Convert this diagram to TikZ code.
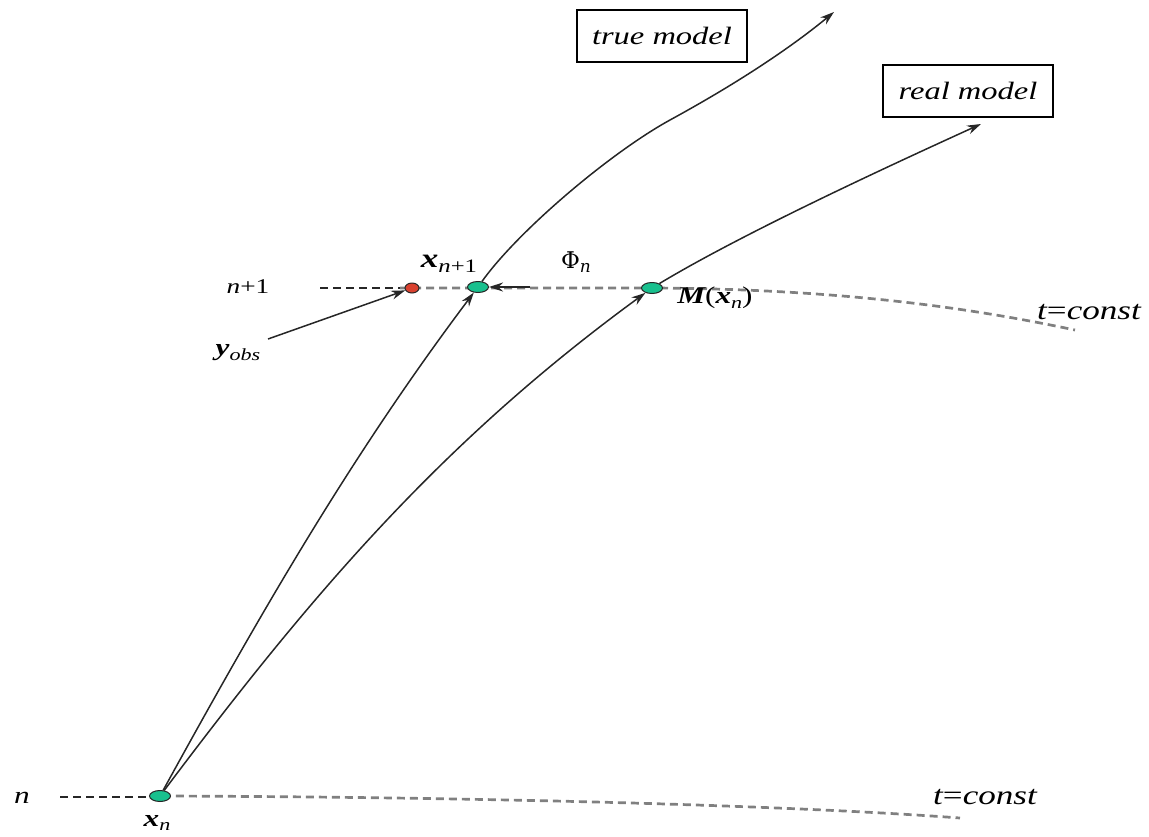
\documentclass[tikz,border=0pt]{standalone}
\usepackage{fontspec}
\setmainfont[FakeStretch=1.3]{Liberation Serif}
\usetikzlibrary{arrows.meta,shapes.geometric}
\definecolor{ptgreen}{HTML}{19C08E}
\definecolor{ptred}{HTML}{D9412F}
\newcommand{\sub}[1]{\raisebox{-0.4ex}{\fontsize{17}{17}\selectfont #1}}
\tikzset{
  pt/.style={ellipse,draw=black!85,line width=1pt,minimum width=21pt,minimum height=11pt,inner sep=0pt},
  gpt/.style={pt,fill=ptgreen},
  rpt/.style={pt,fill=ptred,minimum width=14pt,minimum height=10pt},
  tline/.style={draw=black!50,line width=2.7pt,dash pattern=on 8pt off 5pt},
  tdark/.style={tline,draw=black!85},
  arr/.style={draw=black!85,line width=1.5pt,-{Stealth[length=14pt,width=9pt]}},
  lbl/.style={inner sep=1pt,font=\fontsize{24}{26}\selectfont},
  box/.style={draw,line width=1.4pt,minimum width=170pt,minimum height=52pt,font=\fontsize{25}{27}\selectfont\itshape}
}
\begin{document}
\begin{tikzpicture}[x=1pt,y=-1pt]
\useasboundingbox (0,0) rectangle (1149,836);
% time lines
\coordinate (bl) at (60,797);
\coordinate (bm) at (150,797);
\coordinate (br) at (960,818);
\coordinate (tl) at (320,288);
\coordinate (tm) at (400,288);
\coordinate (tr) at (1075,330);
\draw[tdark] (bl) -- (bm);
\draw[tline] (bm) -- (160,796) .. controls (500,797) and (800,806) .. (br);
\draw[tdark] (tl) -- (tm);
\draw[tline] (tm) -- (652,288) .. controls (850,289) and (980,310) .. (tr);
% points
\node[gpt] (xn) at (160,796) {};
\node[rpt] (yo) at (412,288) {};
\node[gpt] (xn1) at (478,287) {};
\node[gpt] (M) at (652,288) {};
% labels
\node[lbl] (ln) at (22,798) {\itshape n};
\node[lbl,font=\fontsize{21}{23}\selectfont] (ln1) at (248,287) {\itshape n\upshape +1};
\node[lbl] (lxn) at (157,823) {\bfseries\itshape x\sub{\mdseries n}};
\node[lbl,font=\fontsize{27}{29}\selectfont] (lxn1) at (449,264) {\bfseries\itshape x\sub{\mdseries\fontsize{19}{19}\selectfont n\upshape +1}};
\node[lbl] (lphi) at (576,262) {\upshape\fontspec{DejaVu Serif}\fontsize{23}{25}\selectfont Φ\sub{\itshape n}};
\node[lbl] (lM) at (715,298) {\bfseries\itshape M\mdseries\upshape(\bfseries\itshape x\sub{\mdseries n}\mdseries\upshape)};
\node[lbl,anchor=west,font=\fontsize{27}{29}\selectfont] (c1) at (1036,312) {\itshape t\upshape =\itshape const};
\node[lbl,anchor=west,font=\fontsize{27}{29}\selectfont] (c2) at (932,797) {\itshape t\upshape =\itshape const};
\node[lbl] (ly) at (238,353) {\bfseries\itshape y\sub{\mdseries obs}};
\node[box] (tm) at (662,36) {true model};
\node[box] (rm) at (968,91) {real model};
\coordinate (ys) at (268,339);
\coordinate (tend) at (834,12);
\coordinate (rend) at (981,124);
\coordinate (phis) at (530,287);
% connectors
\draw[arr] (ys) -- (yo);
\draw[arr] (phis) -- (xn1);
\draw[arr] (xn) .. controls (259,616) and (350,457) .. (xn1);
\draw[arr] (xn) .. controls (310,596) and (441,442) .. (M);
\draw[arr] (xn1) .. controls (518,231) and (610,153) .. (670,120) .. controls (725,90) and (783,54) .. (tend);
\draw[arr] (M) .. controls (740,235) and (880,170) .. (rend);
\end{tikzpicture}
\end{document}
